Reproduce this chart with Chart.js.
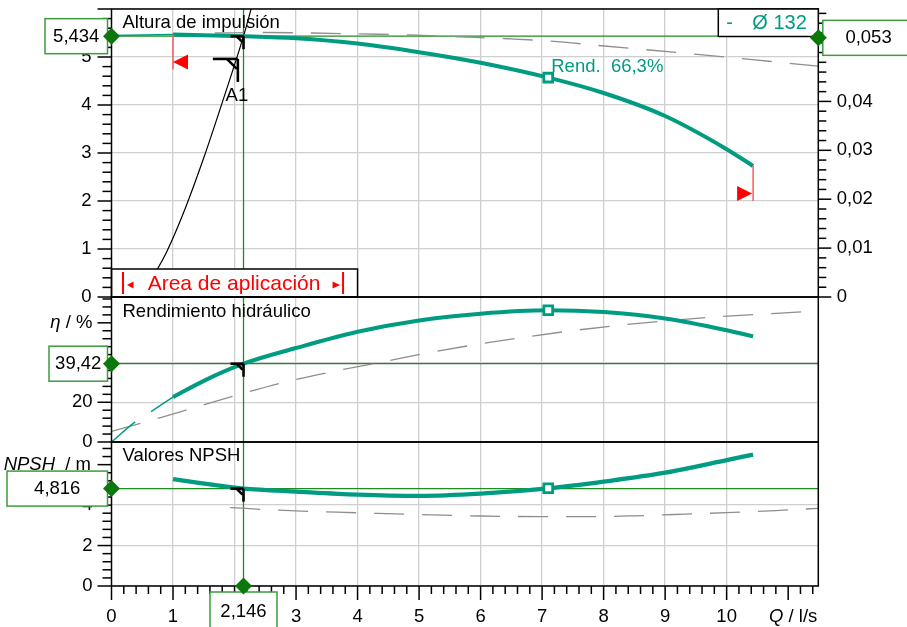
<!DOCTYPE html>
<html><head><meta charset="utf-8">
<script src="https://cdn.jsdelivr.net/npm/chart.js@4"></script>
<style>html,body{margin:0;padding:0;background:#fff}canvas{display:block}</style>
</head><body>
<canvas id="c" width="907" height="627"></canvas>
<script>
// ---------- data ----------
const headQ = [1, 1.5, 2.146, 3, 4, 5, 6, 7.1, 8, 9, 10, 10.43];
const headH = [5.47, 5.455, 5.434, 5.39, 5.28, 5.10, 4.88, 4.57, 4.25, 3.77, 3.08, 2.73];
const headExtQ = [0, 1];
const headExtH = [5.45, 5.47];
const headAltQ = [1.68, 2.5, 3.25, 4.05, 4.85, 5.65, 6.45, 7.15, 7.92, 9.48, 10.46, 11.49];
const headAltH = [5.50, 5.51, 5.50, 5.48, 5.46, 5.42, 5.38, 5.33, 5.24, 5.06, 4.94, 4.81];
const sysQ = [0.62, 0.9, 1.2, 1.5, 1.8, 2.146, 2.28];
const sysH = [0.3, 0.95, 1.85, 2.9, 4.05, 5.434, 6.05];

const effQ = [1, 1.5, 2.146, 3, 4, 5, 6, 7.1, 8, 9, 10, 10.43];
const effV = [22.6, 30.8, 39.42, 47.3, 55.5, 61.2, 64.6, 66.3, 65.4, 62.2, 56.3, 53.2];
const effExtQ = [0, 0.38, 0.64, 1];
const effExtV = [0, 10, 15.3, 22.6];
const effAltQ = [0, 0.8, 1.4, 2.14, 2.9, 3.65, 4.4, 5.17, 5.95, 6.73, 7.43, 8.24, 9.65, 11.49];
const effAltV = [5.3, 12.3, 17.8, 24.5, 30.8, 35.8, 40.3, 45, 49.2, 52.8, 55.8, 58.7, 62.6, 66];

const npshQ = [1, 2, 2.146, 3, 4, 5, 6, 7.1, 8, 9, 10, 10.43];
const npshV = [5.28, 4.86, 4.816, 4.67, 4.52, 4.46, 4.57, 4.83, 5.16, 5.6, 6.22, 6.5];
const npshAltQ = [1.93, 2.5, 3, 4, 5, 6, 7, 7.8, 8.5, 9.3, 10, 10.8, 11.49];
const npshAltV = [3.88, 3.78, 3.71, 3.62, 3.53, 3.46, 3.43, 3.43, 3.47, 3.55, 3.63, 3.73, 3.84];

const opQ = 2.146, opH = 5.434, opEta = 39.42, opNpsh = 4.816, opP = 0.053;
const bepQ = 7.1, bepH = 4.57, bepEta = 66.3, bepNpsh = 4.83;
const a1Q = 2.054, a1H = 4.96;
const rangeQ = [1, 10.43];
const xTickMax = 10;
const qMax = 11.49, hMax = 6, etaMax = 73, npshMax = 7.12, pMax = 0.0589;
const diamLabel = 'Ø 132';
const rendLabel = 'Rend.  66,3%';

// ---------- styles ----------
const TEAL = '#009c82', GL = '#1e8c1e', GD = '#0a780a', GB = '#3c9c3c';
const GRID = '#cfcfcf', DG = '#8e8e8e';
const FF = '"Liberation Sans", Arial, sans-serif';
const TF = {family: FF, size: 18.5};
const pts = (xs, ys) => xs.map((x, i) => ({x, y: ys[i]}));
const comma = (v, d) => v.toFixed(d).replace('.', ',');

const sq = (x, y, axis) => ({data: [{x, y}], yAxisID: axis, showLine: false, pointStyle: 'rect',
  pointRadius: 6.2, borderWidth: 2.8, borderColor: TEAL, backgroundColor: '#fff'});
const ln = (xs, ys, axis, color, w, dash) => ({data: pts(xs, ys), yAxisID: axis, borderColor: color,
  borderWidth: w, borderDash: dash || [], pointRadius: 0, cubicInterpolationMode: 'monotone', fill: false});

const datasets = [
  sq(bepQ, bepH, 'yH'), sq(bepQ, bepEta, 'yE'), sq(bepQ, bepNpsh, 'yN'),
  ln(headQ, headH, 'yH', TEAL, 4),
  ln(effQ, effV, 'yE', TEAL, 4),
  ln(npshQ, npshV, 'yN', TEAL, 4.3),
  ln(headExtQ, headExtH, 'yH', TEAL, 1.5),
  ln(effExtQ, effExtV, 'yE', TEAL, 1.5, [31, 19]),
  ln(sysQ, sysH, 'yH', '#000', 1.2),
  ln(headAltQ, headAltH, 'yH', DG, 1.3, [30, 18]),
  ln(effAltQ, effAltV, 'yE', DG, 1.3, [30, 18]),
  ln(npshAltQ, npshAltV, 'yN', DG, 1.3, [30, 18]),
];

function line(ctx, x1, y1, x2, y2) { ctx.beginPath(); ctx.moveTo(x1, y1); ctx.lineTo(x2, y2); ctx.stroke(); }

function vTicks(ctx, sc, x, dir, step, every, lMaj, lMin) {
  for (let i = 0; ; i++) {
    const v = i * step; if (v > sc.max + 1e-9) break;
    const y = sc.getPixelForValue(v);
    line(ctx, x, y, x + dir * (i % every === 0 ? lMaj : lMin), y);
  }
}

function diamond(ctx, x, y) {
  ctx.fillStyle = GD; ctx.beginPath();
  ctx.moveTo(x, y - 8.5); ctx.lineTo(x + 8.5, y); ctx.lineTo(x, y + 8.5); ctx.lineTo(x - 8.5, y); ctx.closePath(); ctx.fill();
}
function vbox(ctx, x1, y1, x2, y2, text) {
  ctx.fillStyle = '#fff'; ctx.fillRect(x1, y1, x2 - x1, y2 - y1);
  ctx.strokeStyle = GB; ctx.lineWidth = 1.5; ctx.strokeRect(x1, y1, x2 - x1, y2 - y1);
  ctx.fillStyle = '#000'; ctx.font = '18.5px ' + FF; ctx.textAlign = 'center'; ctx.textBaseline = 'middle';
  ctx.fillText(text, (x1 + x2) / 2, (y1 + y2) / 2 + 0.5);
}
function opMark(ctx, x, y, h, v, d) {
  ctx.strokeStyle = '#000'; ctx.lineWidth = 2.6;
  line(ctx, x - h, y, x, y); line(ctx, x, y, x, y + v);
  line(ctx, x - d, y, x - 1, y + d - 1);
}
function mixed(ctx, parts, xRight, y) {
  let tot = 0; const ws = [];
  parts.forEach(([t, it]) => { ctx.font = (it ? 'italic ' : '') + '18.5px ' + FF; const w = ctx.measureText(t).width; ws.push(w); tot += w; });
  let x = xRight - tot; ctx.textAlign = 'left'; ctx.textBaseline = 'middle'; ctx.fillStyle = '#000';
  parts.forEach(([t, it], i) => { ctx.font = (it ? 'italic ' : '') + '18.5px ' + FF; ctx.fillText(t, x, y); x += ws[i]; });
}

const overlay = {
  id: 'overlay',
  beforeDatasetsDraw(chart) {
    const {ctx, chartArea: a, scales: s} = chart;
    ctx.save(); ctx.strokeStyle = GL; ctx.lineWidth = 1.3;
    [[s.yH, opH], [s.yE, opEta], [s.yN, opNpsh]].forEach(([sc, v]) => { const y = sc.getPixelForValue(v); line(ctx, a.left, y, a.right, y); });
    const xo = s.x.getPixelForValue(opQ); line(ctx, xo, a.top, xo, a.bottom);
    ctx.restore();
  },
  afterDatasetsDraw(chart) {
    const {ctx, chartArea: a, scales: s} = chart;
    const X = v => s.x.getPixelForValue(v);
    ctx.save();
    // application range markers (red)
    const xl = X(rangeQ[0]), yl = s.yH.getPixelForValue(headH[0]);
    const xr = X(rangeQ[1]), yr = s.yH.getPixelForValue(headH[headH.length - 1]);
    ctx.strokeStyle = '#ff5a5a'; ctx.lineWidth = 1.5;
    line(ctx, xl, yl, xl, yl + 35); line(ctx, xr, yr, xr, yr + 35);
    ctx.fillStyle = '#f00';
    ctx.beginPath(); ctx.moveTo(xl, yl + 27.5); ctx.lineTo(xl + 15, yl + 20); ctx.lineTo(xl + 15, yl + 35); ctx.closePath(); ctx.fill();
    ctx.beginPath(); ctx.moveTo(xr - 1, yr + 27.5); ctx.lineTo(xr - 16, yr + 20); ctx.lineTo(xr - 16, yr + 35); ctx.closePath(); ctx.fill();

    // area de aplicacion box
    const bl = X(0), br = X(4), bb = s.yH.bottom, bt = bb - 28;
    ctx.fillStyle = '#fff'; ctx.fillRect(bl, bt, br - bl, bb - bt);
    ctx.strokeStyle = '#000'; ctx.lineWidth = 1.5; ctx.strokeRect(bl, bt, br - bl, bb - bt);
    ctx.strokeStyle = '#f00'; ctx.lineWidth = 2;
    line(ctx, bl + 11.5, bt + 3, bl + 11.5, bb - 3); line(ctx, br - 14.5, bt + 3, br - 14.5, bb - 3);
    ctx.fillStyle = '#f00';
    const ym = bt + 16;
    ctx.beginPath(); ctx.moveTo(bl + 15.5, ym); ctx.lineTo(bl + 22, ym - 3.5); ctx.lineTo(bl + 22, ym + 3.5); ctx.closePath(); ctx.fill();
    ctx.beginPath(); ctx.moveTo(br - 17.5, ym); ctx.lineTo(br - 25, ym - 3.5); ctx.lineTo(br - 25, ym + 3.5); ctx.closePath(); ctx.fill();
    ctx.font = '21px ' + FF; ctx.textAlign = 'center'; ctx.textBaseline = 'middle';
    ctx.fillText('Area de aplicación', (bl + br) / 2 - 0.5, bt + 15);

    // frames
    ctx.strokeStyle = '#000'; ctx.lineWidth = 1.5;
    [s.yH, s.yE, s.yN].forEach(sc => ctx.strokeRect(a.left, sc.top, a.right - a.left, sc.bottom - sc.top));
    // ticks
    ctx.lineWidth = 1.5;
    vTicks(ctx, s.yH, a.left, -1, 0.2, 5, 14, 9);
    vTicks(ctx, s.yE, a.left, -1, 4, 5, 14, 9);
    vTicks(ctx, s.yN, a.left, -1, 0.4, 5, 14, 9);
    vTicks(ctx, s.yR, a.right, 1, 0.002, 5, 13, 8);
    for (let i = 0; ; i++) {
      const v = i * 0.2; if (v > s.x.max + 1e-9) break;
      const x = X(v); line(ctx, x, a.bottom, x, a.bottom + (i % 5 === 0 ? 14 : 8));
    }

    // operating point marks
    const xo = X(opQ);
    opMark(ctx, xo, s.yH.getPixelForValue(opH), 13, 13, 7);
    opMark(ctx, xo, s.yE.getPixelForValue(opEta), 13, 13, 7);
    opMark(ctx, xo, s.yN.getPixelForValue(opNpsh), 13, 13, 7);
    const xa = X(a1Q), ya = s.yH.getPixelForValue(a1H);
    opMark(ctx, xa, ya, 25, 23, 11);
    ctx.fillStyle = '#000'; ctx.font = '18.5px ' + FF; ctx.textAlign = 'center'; ctx.textBaseline = 'middle';
    ctx.fillText('A1', xa - 1, ya + 37);

    // panel titles
    ctx.textAlign = 'left';
    ctx.fillText('Altura de impulsión', a.left + 11, s.yH.top + 13.5);
    ctx.fillText('Rendimiento hidráulico', a.left + 11, s.yE.top + 15);
    ctx.fillText('Valores NPSH', a.left + 11, s.yN.top + 14);
    // rend label
    const xb = X(bepQ), yb = s.yH.getPixelForValue(bepH);
    ctx.fillStyle = TEAL; ctx.fillText(rendLabel, xb + 3, yb - 11);

    // diameter box
    ctx.fillStyle = '#fff'; ctx.fillRect(a.right - 100, a.top, 100, 27.5);
    ctx.strokeStyle = '#000'; ctx.lineWidth = 1.5; ctx.strokeRect(a.right - 100, a.top, 100, 27.5);
    ctx.fillStyle = TEAL; ctx.font = '20px ' + FF; ctx.textBaseline = 'middle';
    ctx.fillText('-', a.right - 92, a.top + 14.5);
    ctx.fillText(diamLabel, a.right - 66, a.top + 14.5);

    // axis titles
    mixed(ctx, [['η', true], [' / %', false]], 92.5, s.yE.getPixelForValue(60));
    mixed(ctx, [['NPSH', true], ['  / m', false]], 91, s.yN.getPixelForValue(6));
    mixed(ctx, [['Q', true], [' / l/s', false]], a.right - 1, a.bottom + 30.5);

    // diamonds + value boxes
    const yOpH = s.yH.getPixelForValue(opH), yOpE = s.yE.getPixelForValue(opEta), yOpN = s.yN.getPixelForValue(opNpsh);
    const yOpP = s.yR.getPixelForValue(opP);
    vbox(ctx, 45, yOpH - 17.5, a.left - 4, yOpH + 17.5, comma(opH, 3));
    vbox(ctx, 49, yOpE - 17.5, a.left - 4, yOpE + 17.5, comma(opEta, 2));
    vbox(ctx, 7, yOpN - 17.5, a.left - 4, yOpN + 17.5, comma(opNpsh, 3));
    vbox(ctx, a.right + 4.5, yOpP - 17.5, a.right + 96, yOpP + 17.5, comma(opP, 3));
    vbox(ctx, xo - 33.5, a.bottom + 6, xo + 33.5, a.bottom + 44, comma(opQ, 3));
    diamond(ctx, a.left, yOpH); diamond(ctx, a.left, yOpE); diamond(ctx, a.left, yOpN);
    diamond(ctx, a.right, yOpP); diamond(ctx, xo, a.bottom);
    ctx.restore();
  }
};

const noPad = (w, h) => s => {
  if (w !== undefined) s.width = w;
  if (h !== undefined) s.height = h;
  s.paddingTop = 0; s.paddingBottom = 0; s.paddingLeft = 0; s.paddingRight = 0;
};
const gridY = {color: GRID, lineWidth: 1.3, drawTicks: false};

new Chart(document.getElementById('c'), {
  type: 'line',
  data: {datasets},
  options: {
    responsive: false, animation: false, devicePixelRatio: 1,
    layout: {padding: {top: 5, left: 0, right: 0, bottom: 0}},
    plugins: {legend: {display: false}, tooltip: {enabled: false}},
    scales: {
      x: {type: 'linear', min: 0, max: qMax, position: 'bottom',
        ticks: {stepSize: 1, autoSkip: false, maxRotation: 0, padding: 19.5, font: TF, color: '#000',
          callback: v => (Number.isInteger(v) && v <= xTickMax) ? String(v) : ''},
        grid: {color: c => (Number.isInteger(c.tick.value) && c.tick.value > 0) ? GRID : 'rgba(0,0,0,0)', lineWidth: 1.3, drawTicks: false},
        border: {display: false}, afterFit: noPad(undefined, 41)},
      yH: {type: 'linear', position: 'left', stack: 'L', stackWeight: 290, weight: 3, min: 0, max: hMax,
        ticks: {stepSize: 1, padding: 20, font: TF, color: '#000', callback: v => v < hMax ? String(v) : ''},
        grid: gridY, border: {display: false}, afterFit: noPad(111.5)},
      yE: {type: 'linear', position: 'left', stack: 'L', stackWeight: 146, weight: 2, min: 0, max: etaMax,
        ticks: {stepSize: 20, padding: 19, font: TF, color: '#000', callback: v => (v === 0 || v === 20 || v === 40) ? String(v) : ''},
        grid: {color: c => c.tick.value % 20 === 0 ? GRID : 'rgba(0,0,0,0)', lineWidth: 1.3, drawTicks: false},
        border: {display: false}, afterFit: noPad(111.5)},
      yN: {type: 'linear', position: 'left', stack: 'L', stackWeight: 145, weight: 1, min: 0, max: npshMax,
        ticks: {stepSize: 2, padding: 19, font: TF, color: '#000', callback: v => (v === 0 || v === 2 || v === 4) ? String(v) : ''},
        grid: {color: c => c.tick.value % 2 === 0 ? GRID : 'rgba(0,0,0,0)', lineWidth: 1.3, drawTicks: false},
        border: {display: false}, afterFit: noPad(111.5)},
      yR: {type: 'linear', position: 'right', stack: 'R', stackWeight: 290, weight: 1, min: 0, max: pMax,
        ticks: {stepSize: 0.01, padding: 18.5, font: TF, color: '#000',
          callback: v => v === 0 ? '0' : (v > 0.0455 ? '' : comma(v, 2))},
        grid: {drawOnChartArea: false, drawTicks: false}, border: {display: false}, afterFit: noPad(88.7)},
      yR2: {type: 'linear', position: 'right', stack: 'R', stackWeight: 146, weight: 2, display: false, min: 0, max: 1},
      yR3: {type: 'linear', position: 'right', stack: 'R', stackWeight: 145, weight: 3, display: false, min: 0, max: 1}
    }
  },
  plugins: [overlay]
});
</script>
</body></html>
